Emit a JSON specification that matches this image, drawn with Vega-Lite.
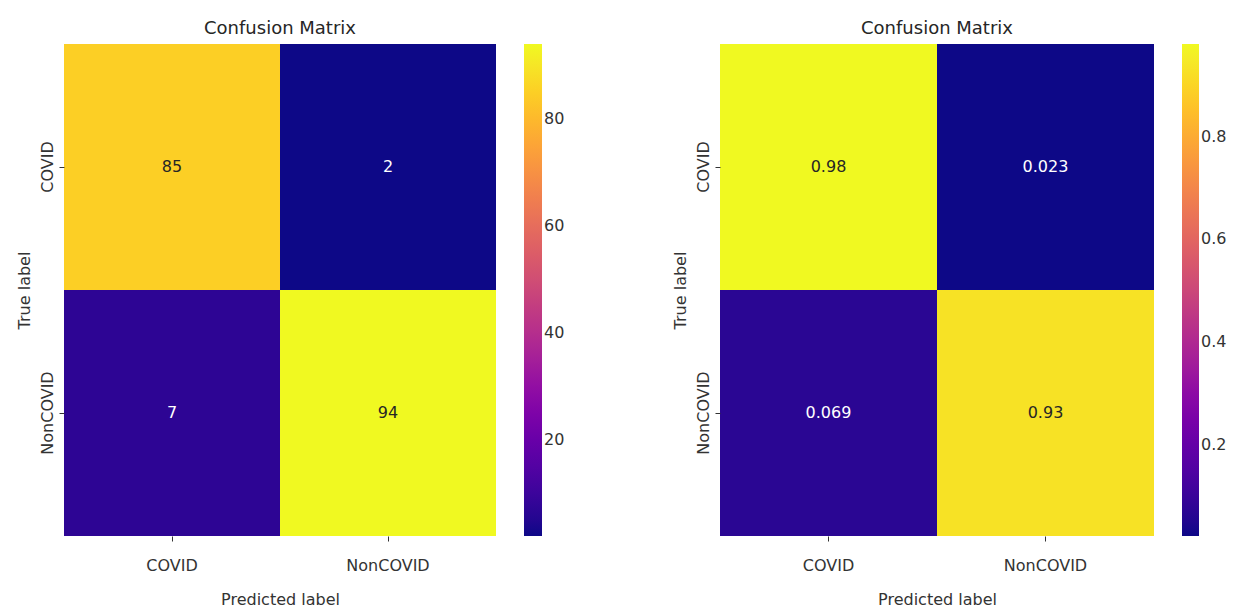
{
  "$schema": "https://vega.github.io/schema/vega-lite/v6.json",
  "background": "white",
  "padding": {"left": 16, "top": 20, "right": 0, "bottom": 0},
  "spacing": 107,
  "resolve": {
    "scale": {"color": "independent", "x": "independent", "y": "independent"},
    "legend": {"color": "independent"}
  },
  "config": {
    "font": "DejaVu Sans",
    "view": {"stroke": null},
    "axis": {
      "domain": false,
      "grid": false,
      "ticks": true,
      "tickSize": 5,
      "tickColor": "#333333",
      "labelFontSize": 16,
      "labelColor": "#333333",
      "titleFontSize": 16,
      "titleFontWeight": "normal",
      "titleColor": "#333333"
    },
    "axisX": {"labelAngle": 0, "labelPadding": 16, "titlePadding": 18},
    "axisY": {"labelAngle": -90, "labelAlign": "center", "labelBaseline": "alphabetic", "labelPadding": 7, "titlePadding": 7},
    "legend": {
      "orient": "right",
      "offset": 28,
      "labelFontSize": 16,
      "labelColor": "#333333",
      "labelOffset": 10,
      "labelOverlap": false,
      "gradientStrokeWidth": 0,
      "title": null
    },
    "title": {"fontSize": 18, "fontWeight": "normal", "color": "#262626", "offset": 6}
  },
  "datasets": {
    "counts": [
      {"actual": "COVID", "predicted": "COVID", "value": 85},
      {"actual": "COVID", "predicted": "NonCOVID", "value": 2},
      {"actual": "NonCOVID", "predicted": "COVID", "value": 7},
      {"actual": "NonCOVID", "predicted": "NonCOVID", "value": 94}
    ],
    "norm": [
      {"actual": "COVID", "predicted": "COVID", "value": 0.98},
      {"actual": "COVID", "predicted": "NonCOVID", "value": 0.023},
      {"actual": "NonCOVID", "predicted": "COVID", "value": 0.069},
      {"actual": "NonCOVID", "predicted": "NonCOVID", "value": 0.93}
    ]
  },
  "hconcat": [
    {
      "width": 432,
      "height": 492,
      "title": {"text": "Confusion Matrix"},
      "data": {"name": "counts"},
      "encoding": {
        "x": {"field": "predicted", "type": "nominal", "sort": ["COVID", "NonCOVID"], "scale": {"paddingInner": 0, "paddingOuter": 0}, "axis": {"title": "Predicted label"}},
        "y": {"field": "actual", "type": "nominal", "sort": ["COVID", "NonCOVID"], "scale": {"paddingInner": 0, "paddingOuter": 0}, "axis": {"title": "True label"}}
      },
      "layer": [
        {
          "mark": {"type": "rect"},
          "encoding": {
            "color": {"field": "value", "type": "quantitative", "scale": {"scheme": "plasma", "domain": [2, 94]},
              "legend": {"values": [20, 40, 60, 80], "format": "d", "gradientLength": 492, "gradientThickness": 18}}
          }
        },
        {
          "mark": {"type": "text", "fontSize": 16},
          "encoding": {
            "text": {"field": "value", "type": "quantitative", "format": "d"},
            "color": {"condition": {"test": "datum.value < 50", "value": "#ffffff"}, "value": "#262626"}
          }
        }
      ]
    },
    {
      "width": 434,
      "height": 492,
      "title": {"text": "Confusion Matrix"},
      "data": {"name": "norm"},
      "encoding": {
        "x": {"field": "predicted", "type": "nominal", "sort": ["COVID", "NonCOVID"], "scale": {"paddingInner": 0, "paddingOuter": 0}, "axis": {"title": "Predicted label"}},
        "y": {"field": "actual", "type": "nominal", "sort": ["COVID", "NonCOVID"], "scale": {"paddingInner": 0, "paddingOuter": 0}, "axis": {"title": "True label"}}
      },
      "layer": [
        {
          "mark": {"type": "rect"},
          "encoding": {
            "color": {"field": "value", "type": "quantitative", "scale": {"scheme": "plasma", "domain": [0.023, 0.98]},
              "legend": {"values": [0.2, 0.4, 0.6, 0.8], "format": ".1f", "gradientLength": 492, "gradientThickness": 17}}
          }
        },
        {
          "mark": {"type": "text", "fontSize": 16},
          "encoding": {
            "text": {"field": "value", "type": "quantitative", "format": ".2g"},
            "color": {"condition": {"test": "datum.value < 0.5", "value": "#ffffff"}, "value": "#262626"}
          }
        }
      ]
    }
  ]
}
